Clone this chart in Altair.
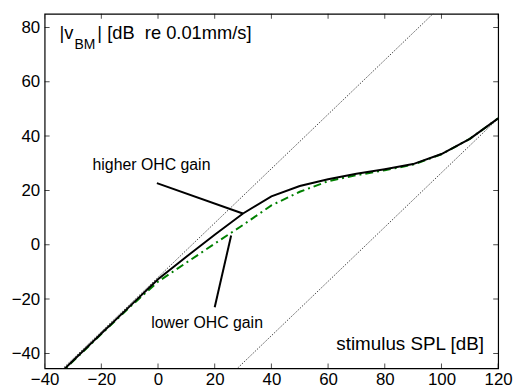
import altair as alt
import pandas as pd

# ---- data ----
SPL = [-40, -30, -20, -10, 0, 10, 20, 30, 40, 50, 60, 70, 80, 90, 100, 110, 120]
HIGHER_GAIN = [-52.7, -42.7, -32.7, -22.7, -12.7, -4.4, 3.7, 11.5, 17.8, 21.6,
               24.1, 26.1, 27.8, 29.7, 33.4, 39.0, 46.5]
LOWER_GAIN = [-52.9, -42.9, -32.9, -23.0, -13.6, -6.6, 0.4, 7.3, 14.5, 19.5,
              23.4, 25.6, 27.4, 29.5, 33.3, 39.0, 46.5]

REF_X = [-40, 120]
REF_UPPER = [-52.0, 108.0]     # slope-1 reference line (upper)
REF_LOWER = [-113.5, 46.5]     # slope-1 reference line (lower)

X_TICKS = [-40, -20, 0, 20, 40, 60, 80, 100, 120]
Y_TICKS = [-40, -20, 0, 20, 40, 60, 80]
X_DOMAIN = [-40, 120]
Y_DOMAIN = [-45.5, 85]

PTR_HIGH_X = [-0.4, 29.9]
PTR_HIGH_Y = [22.7, 11.5]
PTR_LOW_X = [20.0, 25.8]
PTR_LOW_Y = [-23.0, 3.4]

FONT = "Liberation Sans"
FS = 17

xs = alt.Scale(domain=X_DOMAIN, nice=False, zero=False)
ys = alt.Scale(domain=Y_DOMAIN, nice=False, zero=False)
x_axis = alt.Axis(values=X_TICKS, title=None, ticks=False, domain=False, grid=False,
                  labelFontSize=FS, labelFont=FONT, labelColor="black",
                  labelPadding=3, labelFlush=False, labelOverlap=False)
y_axis = alt.Axis(values=Y_TICKS, title=None, ticks=False, domain=False, grid=False,
                  labelFontSize=FS, labelFont=FONT, labelColor="black",
                  labelPadding=5, labelFlush=False, labelOverlap=False)


def X(field="x"):
    return alt.X(f"{field}:Q", scale=xs, axis=x_axis)


def Y(field="y"):
    return alt.Y(f"{field}:Q", scale=ys, axis=y_axis)


def line_df(xv, yv):
    return pd.DataFrame({"x": xv, "y": yv})


ref_up = alt.Chart(line_df(REF_X, REF_UPPER)).mark_line(
    clip=True, color="#333333", strokeWidth=0.9, strokeDash=[1.5, 1.5]
).encode(x=X(), y=Y())
ref_lo = alt.Chart(line_df(REF_X, REF_LOWER)).mark_line(
    clip=True, color="#333333", strokeWidth=0.9, strokeDash=[1.5, 1.5]
).encode(x=X(), y=Y())

lower = alt.Chart(line_df(SPL, LOWER_GAIN)).mark_line(
    clip=True, color="#008000", strokeWidth=2, strokeDash=[8, 4, 2, 4]
).encode(x=X(), y=Y())
higher = alt.Chart(line_df(SPL, HIGHER_GAIN)).mark_line(
    clip=True, color="black", strokeWidth=2
).encode(x=X(), y=Y())

ptr_hi = alt.Chart(line_df(PTR_HIGH_X, PTR_HIGH_Y)).mark_line(
    color="black", strokeWidth=2).encode(x=X(), y=Y())
ptr_lo = alt.Chart(line_df(PTR_LOW_X, PTR_LOW_Y)).mark_line(
    color="black", strokeWidth=2).encode(x=X(), y=Y())

# inward ticks on all four sides
xt = pd.DataFrame({"x": X_TICKS})
yt = pd.DataFrame({"y": Y_TICKS})
tick_style = dict(clip=True, color="black", thickness=1, size=10)
ticks_bottom = alt.Chart(xt).mark_tick(orient="vertical", **tick_style).encode(
    x=X(), y=alt.Y(datum=Y_DOMAIN[0], scale=ys, axis=y_axis))
ticks_top = alt.Chart(xt).mark_tick(orient="vertical", **tick_style).encode(
    x=X(), y=alt.Y(datum=Y_DOMAIN[1], scale=ys, axis=y_axis))
ticks_left = alt.Chart(yt).mark_tick(orient="horizontal", **tick_style).encode(
    y=Y(), x=alt.X(datum=X_DOMAIN[0], scale=xs, axis=x_axis))
ticks_right = alt.Chart(yt).mark_tick(orient="horizontal", **tick_style).encode(
    y=Y(), x=alt.X(datum=X_DOMAIN[1], scale=xs, axis=x_axis))


def label(txt, x, y, size=FS, align="left"):
    df = pd.DataFrame({"x": [x], "y": [y], "t": [txt]})
    return alt.Chart(df).mark_text(
        align=align, baseline="alphabetic", font=FONT, fontSize=size, color="black"
    ).encode(x=X(), y=Y(), text="t:N")


texts = [
    label("higher OHC gain", -23.1, 27.5, size=16),
    label("lower OHC gain", -2.4, -30.5, size=16),
    label("stimulus SPL [dB]", 115.0, -38.8, size=19, align="right"),
    label("|v", -34.8, 75.9, size=18.5),
    label("BM", -29.5, 72.0, size=14),
    label("| [dB\u00a0 re 0.01mm/s]", -21.4, 75.9, size=18.5),
]

chart = alt.layer(
    ref_up, ref_lo, lower, higher, ptr_hi, ptr_lo,
    ticks_bottom, ticks_top, ticks_left, ticks_right, *texts
).properties(
    width=458, height=358,
    autosize=alt.AutoSizeParams(type="none"),
    padding={"left": 37, "top": 4, "right": 15, "bottom": 22},
    background="white",
).configure_view(stroke="black", strokeWidth=1.2)

chart.save("out.html", embed_options={"renderer": "svg", "actions": False})
